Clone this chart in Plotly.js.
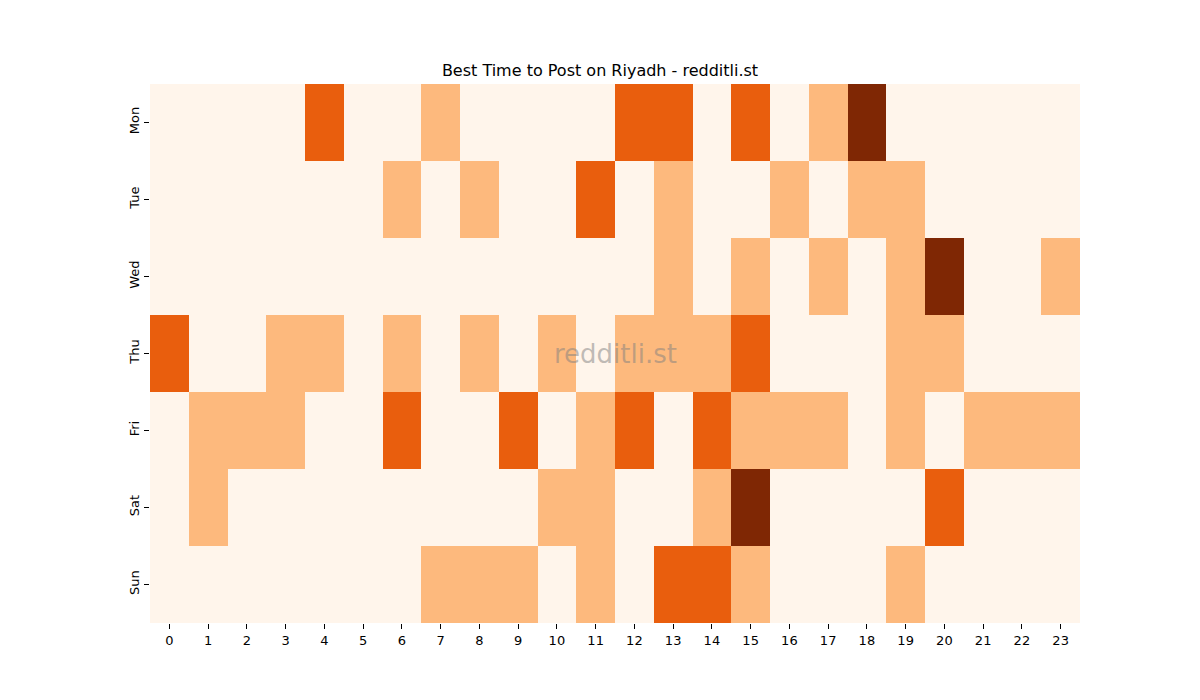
<!DOCTYPE html>
<html>
<head>
<meta charset="utf-8">
<script src="https://cdn.plot.ly/plotly-3.0.1.min.js"></script>
<style>
    body{margin:0;background:#fff;}
    #chart{width:1200px;height:700px;}
</style>
</head>
<body>
<div id="chart"></div>
<script>
let hours = ["0","1","2","3","4","5","6","7","8","9","10","11","12","13","14","15","16","17","18","19","20","21","22","23"];
let days = ["Mon","Tue","Wed","Thu","Fri","Sat","Sun"];

//post activity level per hour, one row per day
let mon = [0,0,0,0,2,0,0,1,0,0,0,0,2,2,0,2,0,1,3,0,0,0,0,0];
let tue = [0,0,0,0,0,0,1,0,1,0,0,2,0,1,0,0,1,0,1,1,0,0,0,0];
let wed = [0,0,0,0,0,0,0,0,0,0,0,0,0,1,0,1,0,1,0,1,3,0,0,1];
let thu = [2,0,0,1,1,0,1,0,1,0,1,0,1,1,1,2,0,0,0,1,1,0,0,0];
let fri = [0,1,1,1,0,0,2,0,0,2,0,1,2,0,2,1,1,1,0,1,0,1,1,1];
let sat = [0,1,0,0,0,0,0,0,0,0,1,1,0,0,1,3,0,0,0,0,2,0,0,0];
let sun = [0,0,0,0,0,0,0,1,1,1,0,1,0,2,2,1,0,0,0,1,0,0,0,0];

let heat = {
    type: "heatmap",
    x: hours,
    y: days,
    z: [mon, tue, wed, thu, fri, sat, sun],
    zmin: 0,
    zmax: 3,
    colorscale: [
        [0, "#fff5eb"],
        [0.333, "#fdb97d"],
        [0.667, "#e95e0d"],
        [1, "#7f2704"]
    ],
    showscale: false,
    xgap: 0,
    ygap: 0,
    hoverinfo: "x+y+z"
};

let layout = {
    width: 1200,
    height: 700,
    margin: {l: 150, r: 120, t: 84, b: 77},
    paper_bgcolor: "#fff",
    plot_bgcolor: "#fff",
    font: {family: "DejaVu Sans", size: 13, color: "#000"},
    title: {
        text: "Best Time to Post on Riyadh - redditli.st",
        font: {family: "DejaVu Sans", size: 16, color: "#000"},
        x: 0.5,
        xanchor: "center",
        y: 1 - 70/700,
        yanchor: "middle"
    },
    xaxis: {
        type: "category",
        showgrid: false,
        zeroline: false,
        showline: false,
        ticks: "outside",
        ticklen: 5,
        tickcolor: "#000",
        tickfont: {size: 13}
    },
    yaxis: {
        type: "category",
        autorange: "reversed",
        showgrid: false,
        zeroline: false,
        showline: false,
        ticks: "outside",
        ticklen: 5,
        tickcolor: "#000",
        tickangle: -90,
        tickfont: {size: 13}
    },
    annotations: [{
        text: "redditli.st",
        xref: "paper",
        yref: "paper",
        x: 0.5,
        y: 0.5,
        showarrow: false,
        font: {family: "DejaVu Sans", size: 26, color: "rgba(128,128,128,0.5)"}
    }]
};

Plotly.newPlot("chart", [heat], layout, {displayModeBar: false});
</script>
</body>
</html>
